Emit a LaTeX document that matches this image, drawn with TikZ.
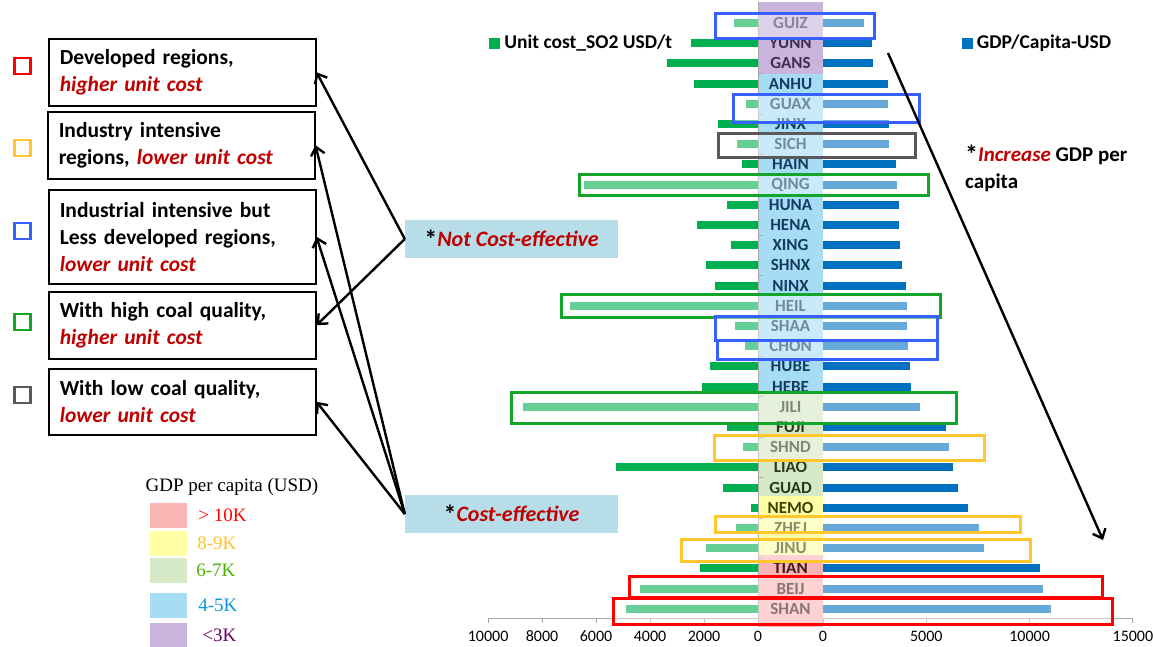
\documentclass[tikz,border=0pt]{standalone}
\usepackage{fontspec}
\setmainfont{Carlito}
\newfontfamily\timesfont{Liberation Serif}
\usepackage{tikz}
\usetikzlibrary{positioning, arrows.meta}

\definecolor{costgreen}{HTML}{00B050}
\definecolor{gdpblue}{HTML}{0070C0}
\definecolor{costred}{HTML}{C00000}
\definecolor{notefill}{HTML}{B7DDE8}
\definecolor{axisgray}{HTML}{A6A6A6}
\definecolor{hlblue}{HTML}{3660FF}
\definecolor{hlgray}{HTML}{595959}
\definecolor{hlgreen}{HTML}{12A52A}
\definecolor{hlyellow}{HTML}{FFC72C}
\definecolor{hlred}{HTML}{FF0000}
\definecolor{bandp}{HTML}{C9B4DD}
\definecolor{bandb}{HTML}{A6DDF5}
\definecolor{bandg}{HTML}{D6E9C6}
\definecolor{bandy}{HTML}{FFFFA6}
\definecolor{bandr}{HTML}{FBB4B4}
\definecolor{labp}{HTML}{3F2D55}
\definecolor{labb}{HTML}{143C60}
\definecolor{labg}{HTML}{2A3A1C}
\definecolor{laby}{HTML}{404000}
\definecolor{labr}{HTML}{3C1A1A}

\newcommand{\bigast}{{\fontsize{26}{26}\selectfont\raisebox{-2pt}{*}}}

\tikzset{
  catbox/.style={draw, line width=1.5pt, text width=245pt, minimum height=67pt,
    inner xsep=11pt, align=left, anchor=north west,
    font=\fontsize{21.5}{27}\selectfont\bfseries},
  catsq/.style={draw=#1, line width=2.8pt, minimum size=16pt, inner sep=0pt},
  notebox/.style={fill=notefill, minimum width=213pt, minimum height=38pt,
    font=\fontsize{22}{25}\selectfont\bfseries},
  rowlab/.style={font=\fontsize{17}{17}\selectfont\bfseries, inner sep=0pt},
  hlbox/.style={draw=#1, line width=3pt, fill=white, fill opacity=0.4},
  keytext/.style={font=\fontsize{19.5}{23}\selectfont\bfseries, inner sep=0pt},
  ticklab/.style={font=\fontsize{16}{16}\selectfont, inner sep=0pt},
  swatch/.style={fill=#1, minimum width=37pt, minimum height=25pt, inner sep=0pt},
  swlab/.style={font=\fontsize{19}{19}\selectfont\timesfont, text=#1, inner sep=0pt},
  ptr/.style={line width=2.4pt, black},
  >={Straight Barb[length=8pt,width=14pt]}
}

\begin{document}
\begin{tikzpicture}[x=1pt, y=-1pt]
  \useasboundingbox (0,0) rectangle (1153,646);

  % GDP bands behind the region names
  \fill[bandp] (758,2) rectangle (823,74);
  \fill[bandb] (758,74) rectangle (823,392);
  \fill[bandg] (758,392) rectangle (823,496);
  \fill[bandy] (758,496) rectangle (823,555);
  \fill[bandr] (758,555) rectangle (823,627);

  \draw[axisgray, line width=0.8pt] (758,2) -- (758,618);
  \foreach \k in {0,...,14}
    \draw[axisgray, line width=0.8pt] (758,{33.1+\k*40.4}) -- (763,{33.1+\k*40.4});

  \draw[axisgray, line width=1pt] (488,618) -- (758,618);
  \draw[axisgray, line width=1pt] (823,618) -- (1133,618);
  \foreach \v in {0,2000,...,10000}{
    \pgfmathsetmacro{\xx}{758-\v*0.027}
    \draw[axisgray, line width=1pt] (\xx,618) -- (\xx,623);
    \node[ticklab] (tl\v) at (\xx,636) {\v};
  }
  \foreach \v in {0,5000,10000,15000}{
    \pgfmathsetmacro{\xx}{823+\v*0.020667}
    \draw[axisgray, line width=1pt] (\xx,618) -- (\xx,623);
    \node[ticklab] (tr\v) at (\xx,636) {\v};
  }

  \foreach \lab/\cst/\gdp/\bd [count=\i] in {
      GUIZ/900/1980/p, YUNN/2480/2370/p, GANS/3380/2410/p,
      ANHU/2370/3130/b, GUAX/460/3130/b, JINX/1480/3180/b, SICH/780/3210/b,
      HAIN/600/3540/b, QING/6440/3570/b, HUNA/1150/3660/b, HENA/2270/3690/b,
      XING/1000/3740/b, SHNX/1920/3840/b, NINX/1590/4000/b, HEIL/6960/4050/b,
      SHAA/850/4080/b, CHON/480/4110/b, HUBE/1790/4190/b, HEBE/2070/4240/b,
      JILI/8700/4700/g, FUJI/1160/5950/g, SHND/550/6090/g, LIAO/5250/6270/g,
      GUAD/1290/6540/g, NEMO/260/7020/y, ZHEJ/810/7540/y, JINU/1920/7790/y,
      TIAN/2150/10480/r, BEIJ/4370/10640/r, SHAN/4890/11020/r}{
    \pgfmathsetmacro{\yy}{23+(\i-1)*20.2}
    \fill[costgreen] ({758-\cst*0.027},{\yy-4}) rectangle (758,{\yy+4});
    \fill[gdpblue] (823,{\yy-4}) rectangle ({823+\gdp*0.020667},{\yy+4});
    \node[rowlab, text=lab\bd] (r\i) at (790.5,\yy) {\lab};
  }

  % highlighted regions
  \foreach \xa/\ya/\xb/\yb/\hc in {
      715/13/874/38/hlblue, 733/94/919/122/hlblue, 718/133/915/157/hlgray,
      579/174/928/195/hlgreen, 561/294/940/317/hlgreen, 715/316/937/340/hlblue,
      717/340/937/359/hlblue, 511/392/956/423/hlgreen, 714/435/984/460/hlyellow,
      715/516/1020/532/hlyellow, 681/539/1030/561/hlyellow,
      629/576/1102/597/hlred, 613/598/1112/624/hlred}
    \draw[hlbox=\hc] (\xa,\ya) rectangle (\xb,\yb);

  \node[fill=costgreen, minimum size=11pt, inner sep=0pt] (kcost) at (494.5,43) {};
  \node[keytext, right=4pt of kcost] (kcosttxt) {Unit cost\_SO2 USD/t};
  \node[fill=gdpblue, minimum size=11pt, inner sep=0pt] (kgdp) at (967,43) {};
  \node[keytext, right=4pt of kgdp] (kgdptxt) {GDP/Capita-USD};

  \node[keytext, anchor=west, align=left, font=\fontsize{21}{27}\selectfont\bfseries]
    (inc) at (965,168.5) {\bigast\textcolor{costred}{\textit{Increase}} GDP per\\capita};
  \coordinate (gdptop) at (888,53);
  \coordinate (gdpbot) at (1103,540);
  \draw[->, ptr] (gdptop) -- (gdpbot);

  \node[catbox] (box1) at (48,38) {Developed regions,\\\textcolor{costred}{\textit{higher unit cost}}};
  \node[catbox] (box2) at (47,111) {Industry intensive\\regions, \textcolor{costred}{\textit{lower unit cost}}};
  \node[catbox, minimum height=94pt] (box3) at (48,189) {Industrial intensive but\\Less developed regions,\\\textcolor{costred}{\textit{lower unit cost}}};
  \node[catbox] (box4) at (48,291) {With high coal quality,\\\textcolor{costred}{\textit{higher unit cost}}};
  \node[catbox, minimum height=66pt] (box5) at (48,368) {With low coal quality,\\\textcolor{costred}{\textit{lower unit cost}}};

  \node[catsq=hlred] (sq1) at (22.5,66) {};
  \node[catsq=hlyellow] (sq2) at (22.5,148) {};
  \node[catsq=hlblue] (sq3) at (22.5,231) {};
  \node[catsq=hlgreen] (sq4) at (22.5,322) {};
  \node[catsq=hlgray] (sq5) at (22.5,395) {};

  \node[notebox] (notce) at (511.5,239) {\bigast\textcolor{costred}{\textit{Not Cost-effective}}};
  \node[notebox] (ce) at (511.5,514) {\bigast\textcolor{costred}{\textit{Cost-effective}}};

  \path[->, ptr]
    (notce.west) edge (box1.east)
                 edge (box4.east)
    (ce.west) edge (box2.east)
              edge (box3.east)
              edge (box5.east);

  \node[font=\fontsize{19}{19}\selectfont\timesfont, inner sep=0pt] (lgtitle) at (232,487) {GDP per capita (USD)};
  \node[swatch=bandr] (sw1) at (168.5,515.5) {};
  \node[swatch=bandy] (sw2) at (168.5,543) {};
  \node[swatch=bandg] (sw3) at (168.5,570.5) {};
  \node[swatch=bandb] (sw4) at (168.5,605) {};
  \node[swatch=bandp] (sw5) at (168.5,635) {};
  \node[swlab=red, right=11pt of sw1] (sl1) {> 10K};
  \node[swlab=hlyellow!90!orange, right=10pt of sw2] (sl2) {8-9K};
  \node[swlab={green!45!lime!70!black}, right=9pt of sw3] (sl3) {6-7K};
  \node[swlab={cyan!80!blue}, right=11pt of sw4] (sl4) {4-5K};
  \node[swlab={violet!80!black}, right=15pt of sw5] (sl5) {<3K};
\end{tikzpicture}
\end{document}
